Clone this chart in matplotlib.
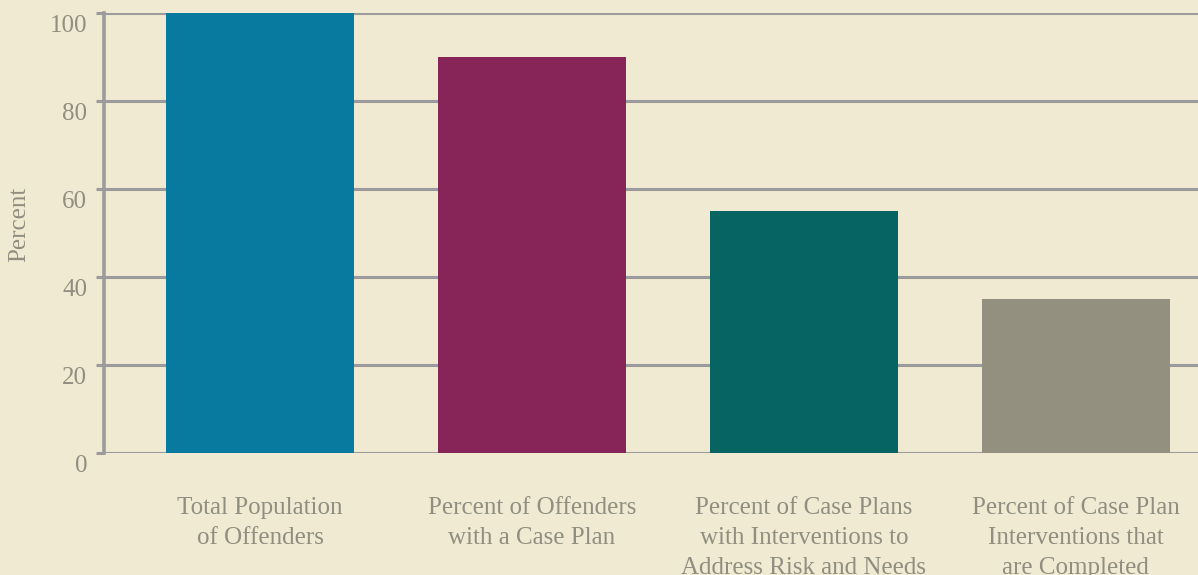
import matplotlib
matplotlib.use("Agg")
import matplotlib.pyplot as plt
from matplotlib.transforms import ScaledTranslation

categories = [
    "Total Population\nof Offenders",
    "Percent of Offenders\nwith a Case Plan",
    "Percent of Case Plans\nwith Interventions to\nAddress Risk and Needs",
    "Percent of Case Plan\nInterventions that\nare Completed",
]
values = [100, 90, 55, 35]
bar_colors = ["#087AA0", "#872558", "#066563", "#949080"]
y_ticks = [0, 20, 40, 60, 80, 100]

bg = "#F0EAD2"
grid_c = "#9B9B9D"
text_c = "#8F8E80"

plt.rcParams["font.family"] = ["Liberation Serif", "DejaVu Serif"]

fig = plt.figure(figsize=(11.98, 5.75), dpi=100, facecolor=bg)
ax = fig.add_axes([104 / 1198, 122 / 575, 1 - 104 / 1198, 440 / 575])
ax.set_facecolor(bg)

x = range(len(values))
ax.set_axisbelow(True)
ax.yaxis.grid(True, color=grid_c, linewidth=2.2)
ax.bar(x, values, width=0.69, color=bar_colors, zorder=3)

ax.set_xlim(-0.574, 3.449)
ax.set_ylim(0, 100)
ax.set_yticks(y_ticks)
ax.set_xticks(list(x))
ax.set_xticklabels(categories, linespacing=1.45)

for s in ["top", "right", "bottom"]:
    ax.spines[s].set_visible(False)
ax.spines["left"].set_color(grid_c)
ax.spines["left"].set_linewidth(2.6)

ax.tick_params(axis="y", colors=grid_c, length=6, width=2.2, pad=6,
               labelcolor=text_c, labelsize=18)
ax.tick_params(axis="x", length=0, pad=32, labelcolor=text_c, labelsize=18)
for t in ax.get_xticklabels():
    t.set_verticalalignment("top")
shift = ScaledTranslation(0, -2 / 100, fig.dpi_scale_trans)
for t in ax.get_yticklabels():
    t.set_verticalalignment("top")
    t.set_transform(t.get_transform() + shift)

ax.set_ylabel("Percent", color=text_c, fontsize=18)
ax.yaxis.set_label_coords(-(104 - 30) / 1094, 0.52)

fig.savefig("out.png", dpi=100, facecolor=bg)
